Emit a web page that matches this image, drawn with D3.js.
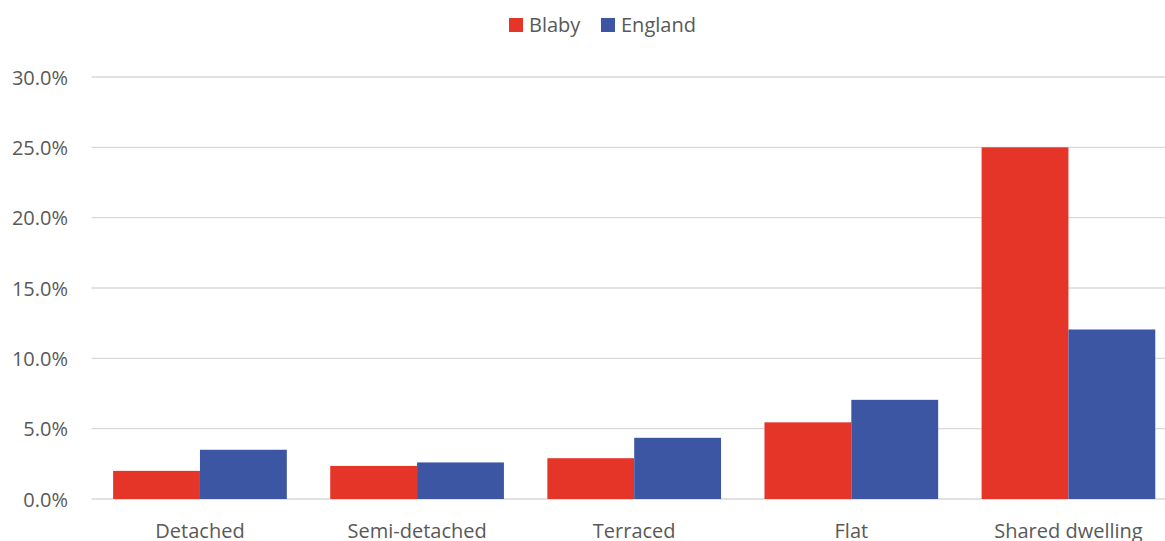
<!DOCTYPE html>
<html><head><meta charset="utf-8">
<script src="https://cdnjs.cloudflare.com/ajax/libs/d3/7.8.5/d3.min.js"></script>
<style>
html,body{margin:0;padding:0;background:#fff;overflow:hidden;}
svg{display:block;font-family:"Open Sans",sans-serif;}
</style></head>
<body>
<svg id="chart" width="1165" height="541"></svg>
<script>
const categories = ["Detached","Semi-detached","Terraced","Flat","Shared dwelling"];
const seriesNames = ["Blaby","England"];
const blaby = [0.020,0.0235,0.029,0.0545,0.250];
const england = [0.035,0.026,0.0435,0.0705,0.1205];
const yTicks = [0,0.05,0.10,0.15,0.20,0.25,0.30];
const colors = ["#E53528","#3C56A3"];

const svg = d3.select("#chart");
const W = 1165, H = 541;
const FS = "20px";
const x0 = d3.scaleBand().domain(categories).range([91.4, 1177]).paddingInner(0.2).paddingOuter(0.1);
const x1 = d3.scaleBand().domain(seriesNames).range([0, x0.bandwidth()]);
const y = d3.scaleLinear().domain([0,0.30]).range([499,77]);
const fmt = d3.format(".1%");

// gridlines
svg.append("g").selectAll("line").data(yTicks).join("line")
  .attr("x1",91.5).attr("x2",W).attr("y1",d=>y(d)).attr("y2",d=>y(d))
  .attr("stroke","#D9D9D9").attr("stroke-width",1.3);
const yAxis = d3.axisLeft(y).tickValues(yTicks).tickFormat(fmt).tickSize(0).tickPadding(0);
const ax = svg.append("g").attr("transform","translate(68,0)").call(yAxis);
ax.select(".domain").remove();
ax.selectAll("text").attr("fill","#595959").style("font-size",FS).style("font-family","'Open Sans',sans-serif").attr("dy","0.35em");

// bars
const data = categories.map((c,i)=>({cat:c, vals:[blaby[i], england[i]]}));
const g = svg.append("g").selectAll("g").data(data).join("g")
  .attr("transform",d=>`translate(${x0(d.cat)},0)`);
g.selectAll("rect").data(d=>d.vals.map((v,j)=>({name:seriesNames[j], v, j}))).join("rect")
  .attr("x",d=>x1(d.name)).attr("width",x1.bandwidth())
  .attr("y",d=>y(d.v)).attr("height",d=>y(0)-y(d.v))
  .attr("fill",d=>colors[d.j]);

// x axis labels
const xAxis = d3.axisBottom(x0).tickSize(0).tickPadding(0);
const axb = svg.append("g").attr("transform","translate(0,531)").call(xAxis);
axb.select(".domain").remove();
axb.selectAll("text").attr("fill","#595959").style("font-size",FS).style("font-family","'Open Sans',sans-serif").attr("dy","0.35em").attr("y",0);

// legend
const legX = [509, 601];
const leg = svg.append("g").selectAll("g").data(seriesNames).join("g")
  .attr("transform",(d,i)=>`translate(${legX[i]},18)`);
leg.append("rect").attr("width",14).attr("height",14).attr("fill",(d,i)=>colors[i]);
leg.append("text").attr("x",20).attr("y",7).attr("dy","0.35em").text(d=>d)
  .attr("fill","#595959").style("font-size",FS);
</script>
</body></html>
